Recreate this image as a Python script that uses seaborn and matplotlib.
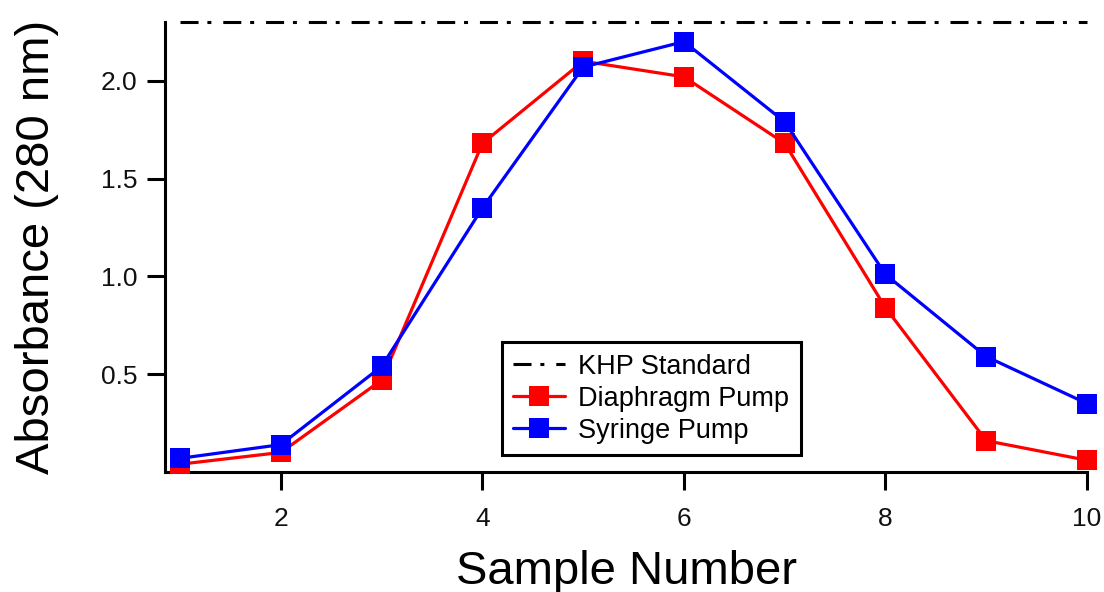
import matplotlib
matplotlib.use("Agg")
import matplotlib.pyplot as plt
import numpy as np
import pandas as pd
import seaborn as sns

# Absorbance at 280 nm for each collected sample
samples = [1, 2, 3, 4, 5, 6, 7, 8, 9, 10]
diaphragm = [0.04, 0.10, 0.47, 1.68, 2.10, 2.02, 1.68, 0.84, 0.16, 0.06]
syringe = [0.07, 0.14, 0.54, 1.35, 2.07, 2.20, 1.79, 1.01, 0.59, 0.35]
khp_standard = 2.30

x_ticks = [2, 4, 6, 8, 10]
y_ticks = [0.5, 1.0, 1.5, 2.0]

sns.set_style("ticks")
plt.rcParams["font.family"] = ["Liberation Sans", "DejaVu Sans"]

fig = plt.figure(figsize=(11.04, 5.92), dpi=100)
ax = fig.add_axes([0.1495, 0.2027, 0.8351, 0.760])

khp_df = pd.DataFrame({"x": samples, "y": [khp_standard] * len(samples)})
dia_df = pd.DataFrame({"x": samples, "y": diaphragm})
syr_df = pd.DataFrame({"x": samples, "y": syringe})

sns.lineplot(data=khp_df, x="x", y="y", ax=ax, color="black", lw=2.2,
             linestyle=(0, (5.9, 2.9, 1.3, 3.9)), label="KHP Standard", clip_on=False)
sns.lineplot(data=dia_df, x="x", y="y", ax=ax, color="#ff0000", lw=2.3,
             marker="s", markersize=14, markeredgewidth=0, label="Diaphragm Pump",
             clip_on=False, zorder=3)
sns.lineplot(data=syr_df, x="x", y="y", ax=ax, color="#0000ff", lw=2.3,
             marker="s", markersize=14, markeredgewidth=0, label="Syringe Pump",
             clip_on=False, zorder=4)

ax.set_xlim(0.85, 10)
ax.set_ylim(0, 2.3)
ax.set_xticks(x_ticks)
ax.set_yticks(y_ticks)
ax.set_yticklabels([f"{v:.1f}" for v in y_ticks])
ax.set_xticklabels([str(v) for v in x_ticks])

sns.despine(ax=ax)
for side in ("left", "bottom"):
    ax.spines[side].set_linewidth(2.2)
    ax.spines[side].set_color("black")
ax.tick_params(axis="both", which="major", direction="out", length=13,
               width=2.2, color="black", labelsize=19, labelcolor="#111111")
ax.tick_params(axis="x", pad=12)
ax.tick_params(axis="y", pad=7)

ax.set_xlabel("Sample Number", fontsize=34, labelpad=14, color="black")
ax.set_ylabel("Absorbance (280 nm)", fontsize=34, labelpad=30, color="black")

leg = ax.legend(loc="lower left", bbox_to_anchor=(0.3655, 0.038), borderaxespad=0,
                fontsize=19.5, frameon=True, fancybox=False, handlelength=1.9,
                handletextpad=0.5, labelspacing=0.22, borderpad=0.42)
leg.get_frame().set_edgecolor("black")
leg.get_frame().set_linewidth(2.2)
leg.get_frame().set_alpha(1)
for txt in leg.get_texts():
    txt.set_color("black")

fig.savefig("out.png", dpi=100)
